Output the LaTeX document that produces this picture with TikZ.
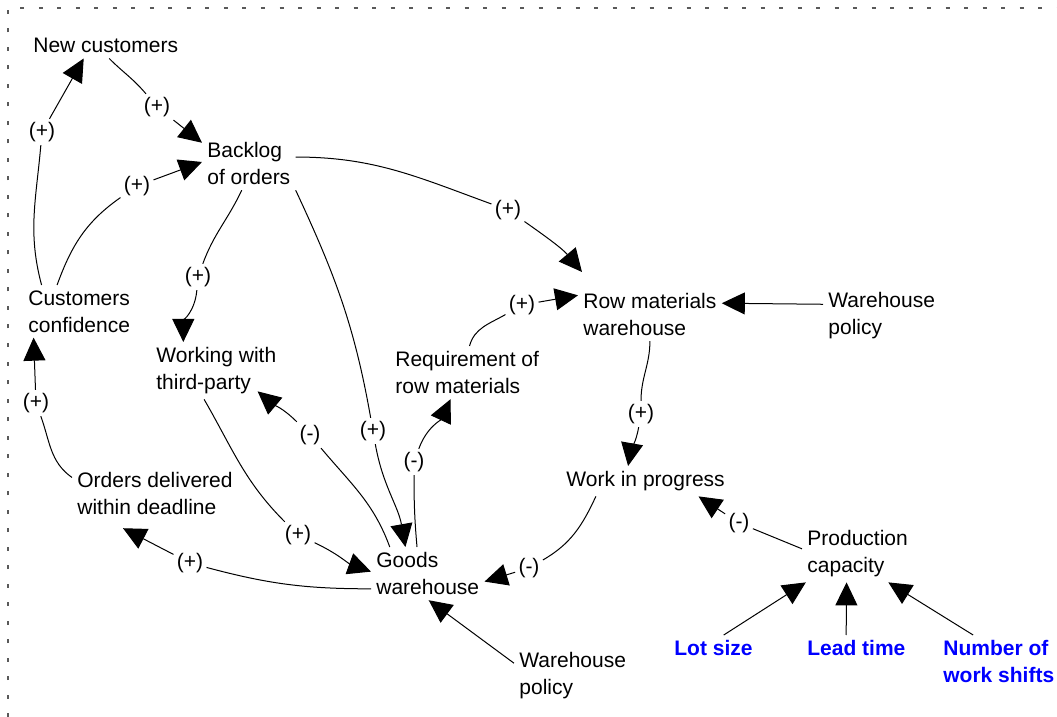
\documentclass[tikz,border=0pt]{standalone}
\usepackage{fontspec}
\setmainfont{Liberation Sans}
\usepackage{xcolor}
\usetikzlibrary{arrows.meta}

\begin{document}
\begin{tikzpicture}[x=0.5pt, y=-0.5pt,
  var/.style={anchor=north west, align=left, inner sep=2.5pt, font=\fontsize{10.5}{13.5}\selectfont},
  ext/.style={var, text=blue, font=\fontsize{10.5}{13.5}\selectfont\bfseries},
  sg/.style={inner sep=1.5pt, font=\fontsize{10.5}{13.5}\selectfont},
  ar/.style={-{Triangle[length=11.5pt,width=11pt]}, line width=0.5pt},
  frame/.style={gray!70!black, line width=1pt, dash pattern=on 2pt off 7.25pt}
]
\useasboundingbox (0,0) rectangle (1057,717);
\draw[frame] (8,717) -- (8,8) -- (1057,8);

% variables
\node[var] (nc)  at (28,33)   {New customers};
\node[var] (bo)  at (202,137) {Backlog\\of orders};
\node[var] (cc)  at (23,285)  {Customers\\confidence};
\node[var] (wt)  at (151,342) {Working with\\third-party};
\node[var] (rq)  at (390,346) {Requirement of\\row materials};
\node[var] (rm)  at (578,288) {Row materials\\warehouse};
\node[var] (wp1) at (823,287) {Warehouse\\policy};
\node[var] (wip) at (561,466) {Work in progress};
\node[var] (pc)  at (802,525) {Production\\capacity};
\node[var] (gw)  at (371,547) {Goods\\warehouse};
\node[var] (od)  at (72,467)  {Orders delivered\\within deadline};
\node[var] (wp2) at (514,647) {Warehouse\\policy};
\node[ext] (ls)  at (669,635) {Lot size};
\node[ext] (lt)  at (802,635) {Lead time};
\node[ext] (ws)  at (938,635) {Number of\\work shifts};

% signs
\node[sg] (s1)  at (42,132)  {(+)};
\node[sg] (s2)  at (157,107) {(+)};
\node[sg] (s3)  at (137,186) {(+)};
\node[sg] (s4)  at (508,210) {(+)};
\node[sg] (s5)  at (198,277) {(+)};
\node[sg] (s6)  at (373,431) {(+)};
\node[sg] (s7)  at (310,435) {(-)};
\node[sg] (s8)  at (414,462) {(-)};
\node[sg] (s9)  at (522,305) {(+)};
\node[sg] (s11) at (641,414) {(+)};
\node[sg] (s12) at (739,523) {(-)};
\node[sg] (s13) at (529,568) {(-)};
\node[sg] (s15) at (298,535) {(+)};
\node[sg] (s16) at (190,563) {(+)};
\node[sg] (s17) at (36,403)  {(+)};

% links
\draw[ar] (cc.145) to[out=105,in=-95] (s1) -- (nc.-150);
\draw[ar] (nc.-75) to[out=-45,in=130] (s2) -- (bo.156);
\draw[ar] (cc.130) to[out=70,in=-145] (s3) -- (bo.178);
\draw[ar] (bo.8) to[out=0,in=160] (s4) to[out=-35,in=130] ([xshift=2pt,yshift=8pt]rm.north west);
\draw[ar] (bo.-105) to[out=-115,in=70] (s5) to[out=-95,in=90] (wt.139);
\draw[ar] (bo.south east) to[out=-65,in=100] (s6) to[out=-80,in=100] (gw.130);
\draw[ar] (gw.145) to[out=110,in=-50] (s7) to[out=135,in=-40] ([xshift=-12pt,yshift=4pt]wt.south east);
\draw[ar] (gw.112) to[out=95,in=-90] (s8) to[out=70,in=-115] (rq.-122);
\draw[ar] (rq.85) to[out=75,in=-150] (s9) -- (rm.165);
\draw[ar] (wp1.169) -- (rm.9);
\draw[ar] (rm.south) to[out=-90,in=90] (s11) to[out=-100,in=80] (wip.139);
\draw[ar] (pc.175) -- (s12) -- (wip.-16);
\draw[ar] (wip.-163) to[out=-115,in=30] (s13) -- (gw.-8);
\draw[ar] (wp2.168) -- (gw.-88);
\draw[ar] (wt.-113) to[out=-60,in=135] (s15) to[out=-25,in=160] (gw.178);
\draw[ar] (gw.-165) to[out=180,in=-15] (s16) -- ([xshift=-16pt,yshift=-4pt]od.south);
\draw[ar] (od.169) to[out=145,in=-70] (s17) -- (cc.-150);
\draw[ar] (ls.52) -- (pc.-151);
\draw[ar] (lt.128) -- (pc.-111);
\draw[ar] (ws.134) -- (pc.-43);
\end{tikzpicture}
\end{document}
